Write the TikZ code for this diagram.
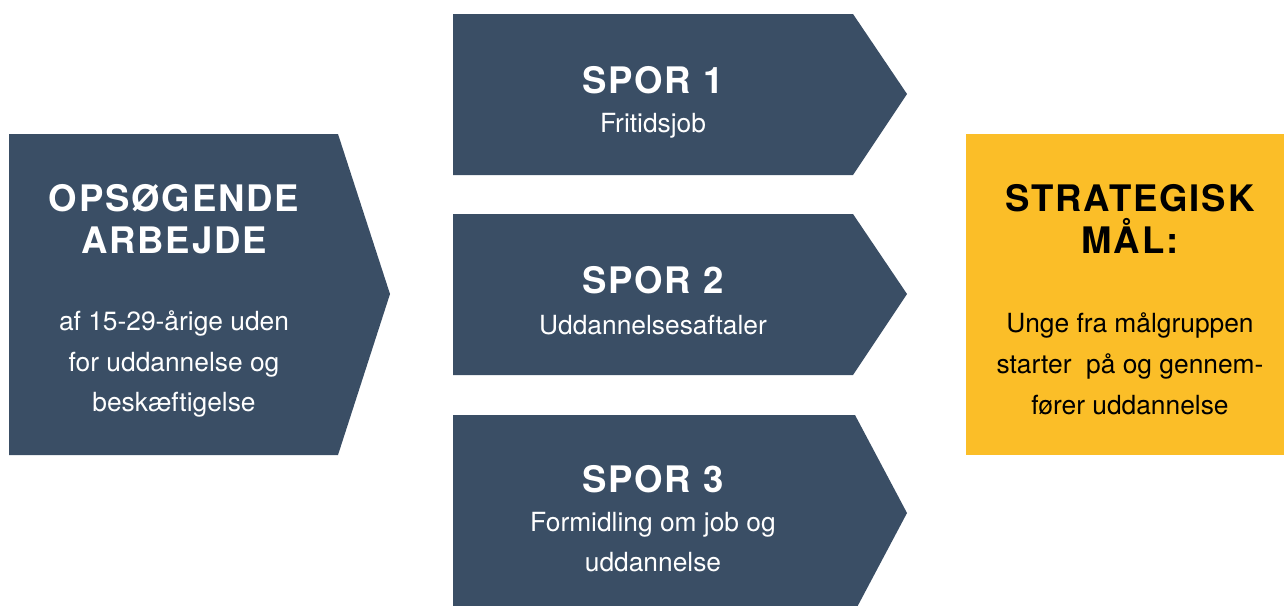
\documentclass[tikz,border=0pt]{standalone}
\usepackage{fontspec}
\setmainfont{TeX Gyre Heros}
\newfontfamily\headfont[LetterSpace=5]{TeX Gyre Heros}
\usetikzlibrary{positioning}
\definecolor{sporblue}{HTML}{3A4E65}
\definecolor{maalgul}{HTML}{FBBE28}
\tikzset{
  head/.style={font=\headfont\bfseries\fontsize{20.8}{23.8}\selectfont, align=center, inner sep=0pt},
  body/.style={font=\fontsize{15}{23.2}\selectfont, align=center, inner sep=0pt},
}

\begin{document}
\begin{tikzpicture}[x=0.02cm,y=-0.02cm]
            \useasboundingbox (0,0) rectangle (1284,605);

            % Opsoegende arbejde
            \fill[sporblue] (9,134) -- (338,134) -- (390,294) -- (338,455) -- (9,455) -- cycle;
            \node[head, white] (ops) at (174,219) {OPSØGENDE\\ARBEJDE};
            \node[body, white] (opstxt) at (174,364) {af 15-29-årige uden\\for uddannelse og\\beskæftigelse};

            % Spor 1-3
            \foreach \t/\m/\b/\e in {14/94/175/853, 214/294/375/853, 415/513/611/855} {
                \fill[sporblue] (453,\t) -- (\e,\t) -- (907,\m) -- (\e,\b) -- (453,\b) -- cycle;
            }
            \node[head, white] (spor1) at (653,80) {SPOR 1};
            \node[body, white] (spor1txt) at (653,126) {Fritidsjob};
            \node[head, white] (spor2) at (653,280) {SPOR 2};
            \node[body, white] (spor2txt) at (653,325) {Uddannelsesaftaler};
            \node[head, white] (spor3) at (653,479) {SPOR 3};
            \node[body, white] (spor3txt) at (653,542) {Formidling om job og\\uddannelse};

            % Strategisk maal
            \fill[maalgul] (966,134) rectangle (1284,455);
            \node[head, black] (maal) at (1130,219) {STRATEGISK\\MÅL:};
            \node[body, black] (maaltxt) at (1130,364) {Unge fra målgruppen\\starter\ \ på og gennem-\\fører uddannelse};
        \end{tikzpicture}
\end{document}
